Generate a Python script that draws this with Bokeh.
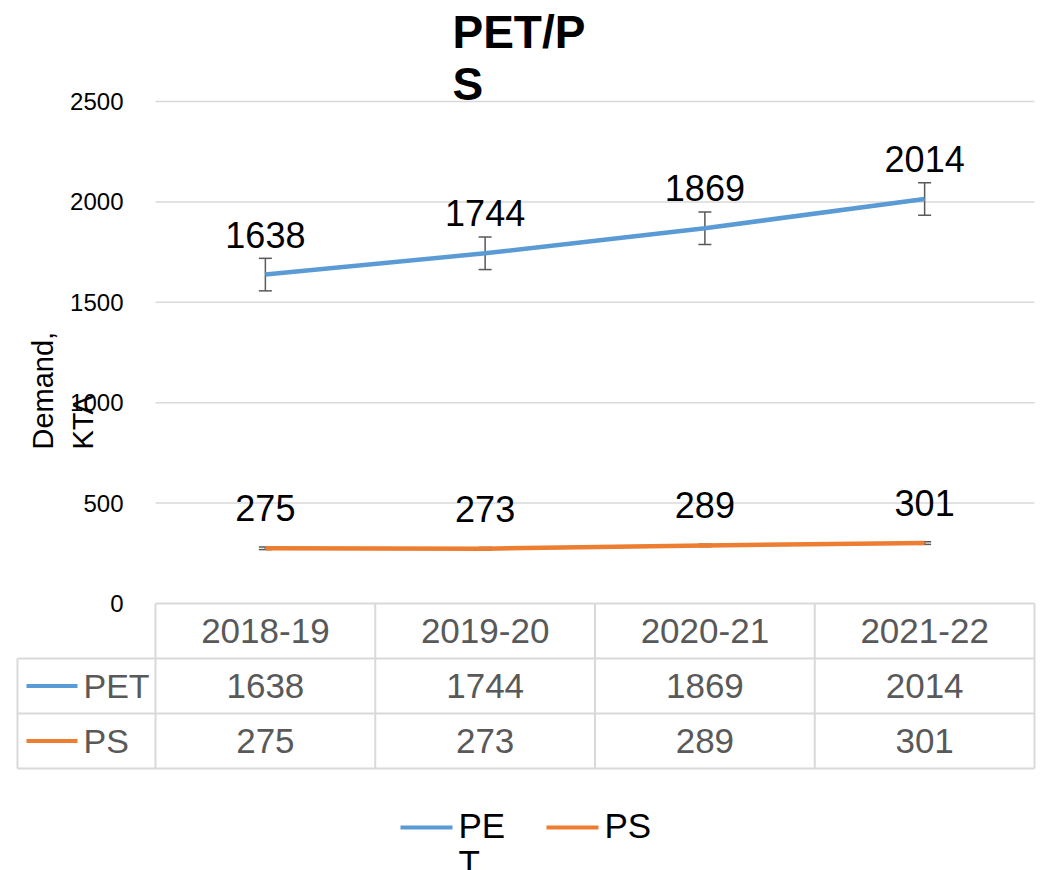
import math
from bokeh.plotting import figure
from bokeh.models import Range1d, Label
from bokeh.core.properties import value
from bokeh.embed import file_html
from bokeh.resources import INLINE

# ---------------- data ----------------
title_text = "PET/P\nS"
y_title = "Demand,\nKTA"
categories = ["2018-19", "2019-20", "2020-21", "2021-22"]
series_names = ["PET", "PS"]
legend_labels = ["PE\nT", "PS"]
pet = [1638, 1744, 1869, 2014]
ps = [275, 273, 289, 301]
pet_err = [81, 81, 81, 81]
ps_err = [6.5, 6.5, 6.5, 6.5]
y_ticks = [0, 500, 1000, 1500, 2000, 2500]
colors = ["#5B9BD5", "#ED7D31"]
series = [pet, ps]
errors = [pet_err, ps_err]

# ---------------- layout (image pixels) ----------------
FIG_W, FIG_H = 1046, 870
PAD = 0
PLOT_LEFT, PLOT_RIGHT = 155, 1034
PLOT_TOP, PLOT_BOTTOM = 101, 603
ROW_H = 55
FONT = value("Liberation Sans")

n = len(categories)
cat_w = (PLOT_RIGHT - PLOT_LEFT) / n
k = (PLOT_BOTTOM - PLOT_TOP) / y_ticks[-1]


def px_x(px):
    return (px - PLOT_LEFT) / cat_w


def px_row(py):
    return (py - PLOT_BOTTOM) / ROW_H


x_range = Range1d(px_x(PAD), px_x(PAD + FIG_W))
y_range = Range1d(-(PAD + FIG_H - PLOT_BOTTOM) / k, (PLOT_BOTTOM - PAD) / k)
tbl_range = Range1d(px_row(PAD + FIG_H), px_row(PAD))

p = figure(width=FIG_W, height=FIG_H, x_range=x_range, y_range=y_range,
           x_axis_type=None, y_axis_type=None,
           output_backend="svg", toolbar_location=None, min_border=0)
p.outline_line_color = None
p.background_fill_color = "white"
p.border_fill_color = "white"
p.extra_y_ranges = {"tbl": tbl_range}

xs = [i + 0.5 for i in range(n)]
GRID = "#D9D9D9"

# gridlines
gt = y_ticks[1:]
p.segment(x0=[0] * len(gt), x1=[n] * len(gt), y0=gt, y1=gt,
          line_color=GRID, line_width=1.5)

# y tick labels
p.text(x=[0] * len(y_ticks), y=y_ticks, text=[str(t) for t in y_ticks],
       x_offset=-32, text_align="right", text_baseline="middle",
       text_font=FONT, text_font_size="24px", text_color="#000000")

# error bars (under lines)
for vals, err in zip(series, errors):
    lo = [v - e for v, e in zip(vals, err)]
    hi = [v + e for v, e in zip(vals, err)]
    p.segment(x0=xs, x1=xs, y0=lo, y1=hi, line_color="#595959", line_width=1.5)
    p.scatter(x=xs, y=lo, marker="dash", size=13, line_color="#595959", line_width=1.5)
    p.scatter(x=xs, y=hi, marker="dash", size=13, line_color="#595959", line_width=1.5)

# lines
for vals, c in zip(series, colors):
    p.line(x=xs, y=vals, line_color=c, line_width=4.5)

# data labels
for vals in series:
    p.text(x=xs, y=vals, text=[str(v) for v in vals], y_offset=-40,
           text_align="center", text_baseline="alphabetic",
           text_font=FONT, text_font_size="36px", text_color="#000000")

# ---------------- data table ----------------
TB = "#D9D9D9"
nrows = len(series) + 1
left = px_x(17)
p.segment(x0=[0], x1=[n], y0=[0], y1=[0], y_range_name="tbl", line_color=TB, line_width=2)
hy = [r for r in range(1, nrows + 1)]
p.segment(x0=[left] * len(hy), x1=[n] * len(hy), y0=hy, y1=hy, y_range_name="tbl",
          line_color=TB, line_width=2)
vx = list(range(n + 1))
p.segment(x0=vx, x1=vx, y0=[0] * len(vx), y1=[nrows] * len(vx), y_range_name="tbl",
          line_color=TB, line_width=2)
p.segment(x0=[left], x1=[left], y0=[1], y1=[nrows], y_range_name="tbl",
          line_color=TB, line_width=2)
p.text(x=xs, y=[0.5] * n, text=categories, y_range_name="tbl",
       text_align="center", text_baseline="middle",
       text_font=FONT, text_font_size="35px", text_color="#595959")
for r, (name, vals, c) in enumerate(zip(series_names, series, colors)):
    yc = r + 1.5
    p.text(x=xs, y=[yc] * n, text=[str(v) for v in vals], y_range_name="tbl",
           text_align="center", text_baseline="middle",
           text_font=FONT, text_font_size="35px", text_color="#595959")
    p.segment(x0=[px_x(26)], x1=[px_x(77)], y0=[yc], y1=[yc], y_range_name="tbl",
              line_color=c, line_width=4)
    p.text(x=[px_x(83)], y=[yc], text=[name], y_range_name="tbl",
           text_align="left", text_baseline="middle",
           text_font=FONT, text_font_size="34px", text_color="#595959")

# ---------------- legend ----------------
leg_y = px_row(827)
leg_pos = [(400, 452, 458), (546, 598, 604)]
for (k0, k1, tx), lab, c in zip(leg_pos, legend_labels, colors):
    p.segment(x0=[px_x(k0)], x1=[px_x(k1)], y0=[leg_y], y1=[leg_y], y_range_name="tbl",
              line_color=c, line_width=4)
    p.text(x=[px_x(tx)], y=[leg_y], text=[lab], y_range_name="tbl", y_offset=-22,
           text_align="left", text_baseline="top", text_line_height=0.95,
           text_font=FONT, text_font_size="35px", text_color="#000000")

# ---------------- title & axis title ----------------
p.add_layout(Label(x=452 - PAD, y=PAD + FIG_H - 5, x_units="screen", y_units="screen",
                   text=title_text, text_align="left", text_baseline="top",
                   text_font="Liberation Sans", text_font_style="bold",
                   text_font_size="46px", text_color="#000000", text_line_height=1.0))
p.add_layout(Label(x=26 - PAD, y=PAD + FIG_H - 449, x_units="screen", y_units="screen",
                   angle=math.pi / 2, text=y_title, text_align="left", text_baseline="top",
                   text_font="Liberation Sans", text_font_size="29px",
                   text_color="#000000", text_line_height=1.25))

open("out.html", "w").write(file_html(p, INLINE))
